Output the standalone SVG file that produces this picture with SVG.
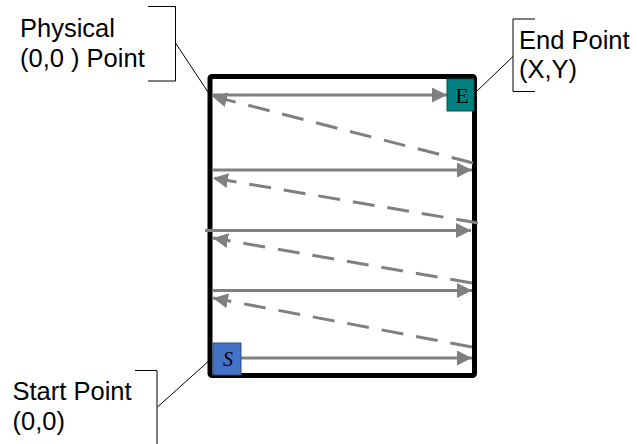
<svg xmlns="http://www.w3.org/2000/svg" width="637" height="444" viewBox="0 0 637 444">
<style>
.lbl{font-family:"Liberation Sans",Arial,sans-serif;font-size:25.5px;fill:#000}
.call{fill:none;stroke:#000;stroke-width:1}
.arr{fill:none;stroke:#808080;stroke-width:3}
.dash{stroke-dasharray:22 13}
.box{font-family:"Liberation Serif","Times New Roman",serif;fill:#000;text-anchor:middle}
</style>
<defs>
<marker id="ah" markerUnits="userSpaceOnUse" markerWidth="16" markerHeight="16" refX="15" refY="7.5" orient="auto">
<path d="M0,0 L15,7.5 L0,15 z" fill="#808080"/>
</marker>
</defs>
<g id="frame">
<rect x="210" y="76.5" width="264.5" height="299" rx="2" fill="#fff" stroke="#000" stroke-width="5"/>
</g>
<g id="connectors">
<line class="arr" x1="213" y1="95" x2="447" y2="95" marker-end="url(#ah)"/>
<line class="arr dash" x1="473" y1="163" x2="212" y2="96" marker-end="url(#ah)"/>
<line class="arr" x1="212" y1="170" x2="472" y2="170" marker-end="url(#ah)"/>
<line class="arr dash" x1="478" y1="223" x2="213" y2="178" marker-end="url(#ah)"/>
<line class="arr" x1="205" y1="230.5" x2="471" y2="230.5" marker-end="url(#ah)"/>
<line class="arr dash" x1="472" y1="283" x2="213" y2="238" marker-end="url(#ah)"/>
<line class="arr" x1="212" y1="290.5" x2="472" y2="290.5" marker-end="url(#ah)"/>
<line class="arr dash" x1="472" y1="347" x2="213" y2="298" marker-end="url(#ah)"/>
<line class="arr" x1="241" y1="358" x2="472" y2="358" marker-end="url(#ah)"/>
</g>
<g id="end-box">
<rect x="447" y="79" width="27" height="32" fill="#008080" stroke="#1a4a4a" stroke-width="1"/>
<text class="box" x="462" y="102.5" font-size="22">E</text>
</g>
<g id="start-box">
<rect x="213" y="343" width="28" height="32" fill="#4472C4" stroke="#2F4F7F" stroke-width="1"/>
<text class="box" x="228" y="365.5" font-size="20" font-style="italic">S</text>
</g>
<g id="physical-label">
<polyline class="call" points="148,6.5 175.5,6.5 175.5,81 148,81"/>
<line class="call" x1="175.5" y1="43" x2="208" y2="92"/>
<text class="lbl" x="20" y="36.5">Physical</text>
<text class="lbl" x="20" y="66.5">(0,0 ) Point</text>
</g>
<g id="end-label">
<polyline class="call" points="535,19 513,19 513,91.5 535,91.5"/>
<line class="call" x1="513" y1="56.5" x2="476" y2="92"/>
<text class="lbl" x="519" y="48.5">End Point</text>
<text class="lbl" x="519" y="77.5">(X,Y)</text>
</g>
<g id="start-label">
<polyline class="call" points="135,370.5 157,370.5 157,444"/>
<line class="call" x1="157.5" y1="407" x2="211" y2="359"/>
<text class="lbl" x="12.5" y="400">Start Point</text>
<text class="lbl" x="12.5" y="430">(0,0)</text>
</g>
</svg>
